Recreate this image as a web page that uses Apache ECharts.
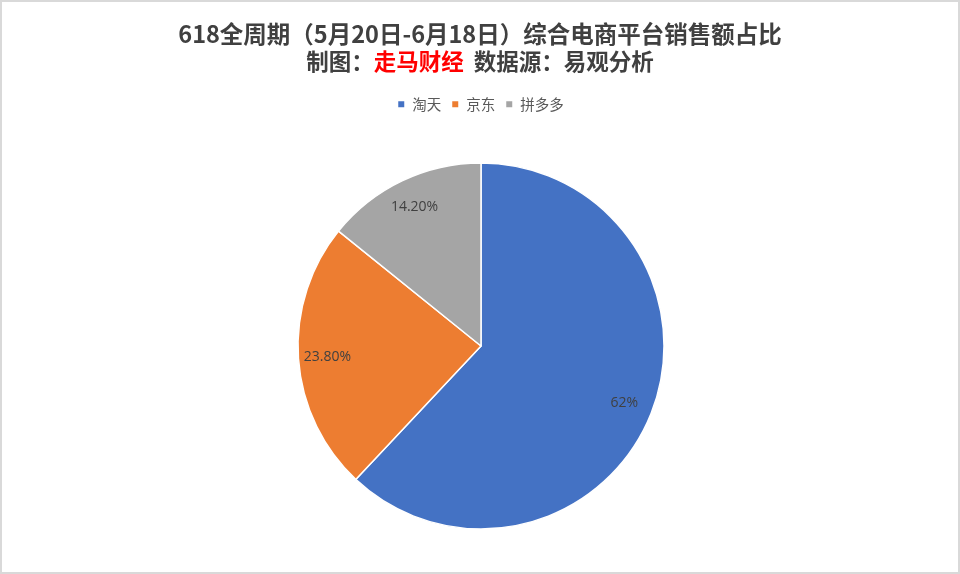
<!DOCTYPE html>
<html>
<head>
<meta charset="utf-8">
<script src="https://cdn.jsdelivr.net/npm/echarts@6/dist/echarts.min.js"></script>
<style>
  html, body { margin: 0; padding: 0; background: #fff; }
  #chart { width: 956px; height: 570px; border: 2px solid #d9d9d9; }
</style>
</head>
<body>
<div id="chart"></div>
<script>
// data
const platforms = ['淘天', '京东', '拼多多'];
const shares = [62, 23.8, 14.2];
const shareLabels = ['62%', '23.80%', '14.20%'];
const colors = ['#4472c4', '#ed7d31', '#a5a5a5'];

const pieData = platforms.map((name, i) => ({ name: name, value: shares[i] }));
const labelData = platforms.map((name, i) => ({ name: name, value: shares[i], label: { formatter: shareLabels[i] } }));

const chart = echarts.init(document.getElementById('chart'));
chart.setOption({
    color: colors,
    title: {
        text: '{a|618全周期（5月20日-6月18日）综合电商平台销售额占比}\n{t|制图：}{r|走马财经}{t|  数据源：易观分析}',
        left: 'center',
        top: 14,
        textStyle: {
            rich: {
                a: { fontFamily: 'Noto Sans CJK SC', fontSize: 23.5, fontWeight: 'bold', color: '#404040', lineHeight: 27 },
                t: { fontFamily: 'Noto Sans CJK SC', fontSize: 22.5, fontWeight: 'bold', color: '#404040', lineHeight: 27 },
                r: { fontFamily: 'Noto Sans CJK SC', fontSize: 22.5, fontWeight: 'bold', color: '#ff0000', lineHeight: 27 }
            }
        }
    },
    legend: {
        top: 90,
        left: 'center',
        itemWidth: 8,
        itemHeight: 8,
        itemGap: 9,
        icon: 'rect',
        data: platforms,
        textStyle: { fontFamily: 'Noto Sans CJK SC', fontSize: 14.5, color: '#595959', padding: [0, 0, 0, 2] }
    },
    series: [
        {
            type: 'pie',
            center: [479, 344],
            radius: 183,
            startAngle: 90,
            clockwise: true,
            label: { show: false },
            labelLine: { show: false },
            itemStyle: { borderColor: '#fff', borderWidth: 1.5 },
            emphasis: { disabled: true },
            data: pieData
        },
        {
            // invisible ring only used to place labels near the outer edge
            type: 'pie',
            center: [479, 344],
            radius: 302,
            startAngle: 90,
            clockwise: true,
            silent: true,
            z: 3,
            itemStyle: { color: 'rgba(0,0,0,0)' },
            label: {
                show: true,
                position: 'inside',
                fontFamily: 'Open Sans',
                fontSize: 14,
                color: '#404040'
            },
            labelLine: { show: false },
            emphasis: { disabled: true },
            data: labelData
        }
    ]
});
</script>
</body>
</html>
